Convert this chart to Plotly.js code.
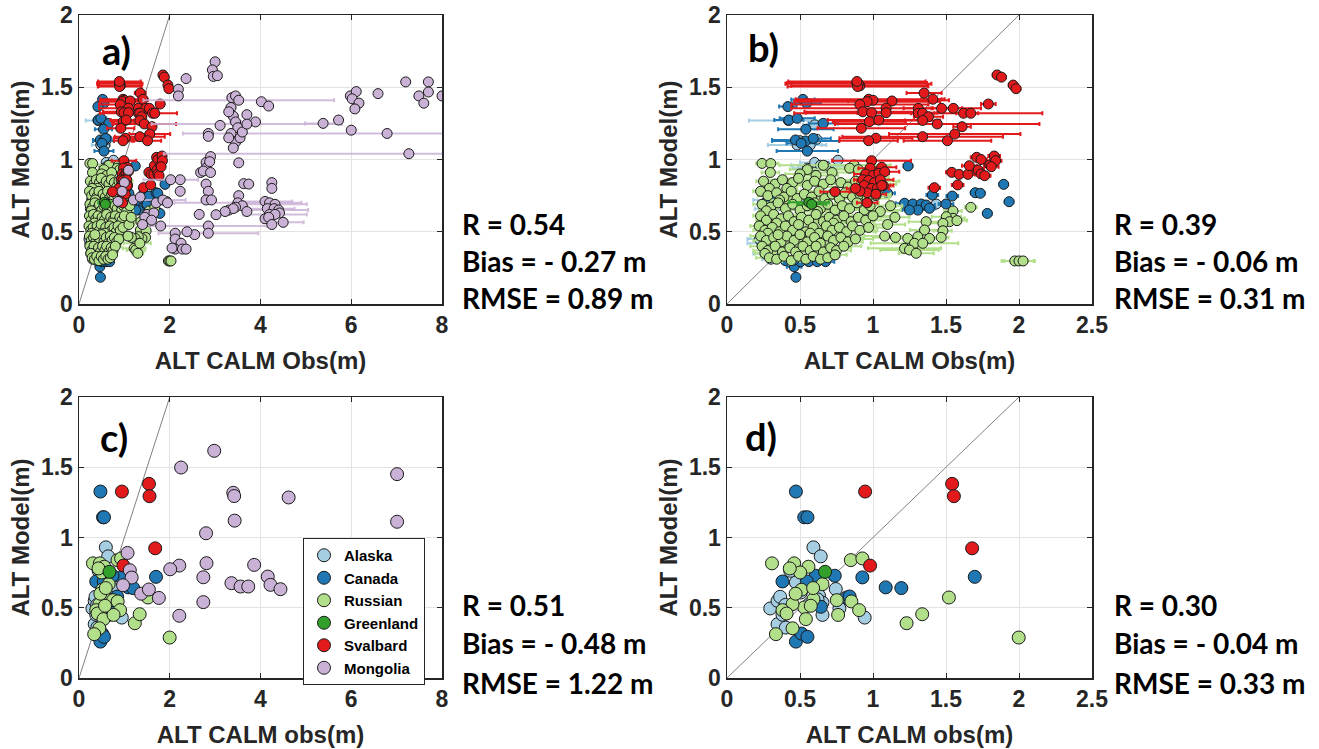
<!DOCTYPE html>
<html><head><meta charset="utf-8">
<script src="https://cdn.plot.ly/plotly-3.0.1.min.js"></script>
<style>html,body{margin:0;padding:0;background:#fff;overflow:hidden}</style>
</head><body><div id="chart" style="width:1319px;height:749px"></div>
<script>
// ---------- DATA: annual values [obs x, model y, obs error] ----------
const alaskaAnnual = [[0.42,1.27,0.27],[0.48,1.10,0.20],[0.50,1.13,0.10],[0.57,1.10,0.08],[0.60,1.24,0.08],[0.615,1.14,0.06],
 [0.607,0.955,0.12],[0.675,0.955,0.15],[0.60,0.98,0.10],[0.76,0.995,0.04],[0.64,0.96,0.20],[0.55,0.94,0.10],[1.433,0.692,0.05],
 [0.25,0.66,0.06],[0.24,0.42,0.10],[0.26,0.35,0.08],[0.30,0.31,0.06],[0.22,0.45,0.08],[0.28,0.72,0.10],[0.50,0.70,0.05],[0.70,0.33,0.07]];
const canadaAnnual = [[0.52,1.416,0.08],[0.545,1.389,0.10],[0.417,1.366,0.06],[0.424,1.273,0.10],[0.481,1.285,0.12],[0.659,1.25,0.10],
 [0.54,1.209,0.19],[0.469,1.135,0.16],[0.538,1.128,0.23],[0.591,1.146,0.12],[0.508,1.112,0.10],[0.55,1.058,0.21],[1.10,0.766,0.05],
 [1.216,0.697,0.06],[1.273,0.692,0.08],[1.33,0.692,0.05],[1.364,0.685,0.06],[1.387,0.662,0.04],[1.307,0.65,0.07],[1.25,0.65,0.05],
 [1.50,0.692,0.05],[1.406,0.754,0.04],[1.543,0.747,0.04],[1.70,0.77,0.03],[1.735,0.766,0.03],[1.783,0.627,0.03],[1.895,0.828,0.03],
 [1.932,0.708,0.03],[1.24,0.955,0.03],[0.46,0.258,0.05],[0.472,0.185,0.02],[0.504,0.293,0.06],[0.561,0.293,0.07],[0.618,0.293,0.05],
 [0.675,0.293,0.06],[0.46,0.305,0.05],[0.40,0.30,0.04],[0.263,0.70,0.05],[0.30,0.66,0.06],[0.27,0.62,0.04],[0.33,0.74,0.05]];
const russiaAnnual = [[0.24,0.973,0.04],[0.30,0.972,0.05],[0.297,0.91,0.06],[0.66,0.96,0.30],[0.87,0.962,0.25],[0.84,0.94,0.20],[0.90,0.93,0.18],[0.55,0.93,0.12],[0.50,0.90,0.10],[0.61,0.89,0.15],[0.72,0.91,0.22],
 [0.25,0.85,0.05],[0.33,0.83,0.08],[0.38,0.86,0.10],[0.45,0.84,0.12],[0.49,0.87,0.09],[0.55,0.82,0.14],[0.60,0.85,0.11],[0.66,0.83,0.20],[0.71,0.86,0.18],[0.78,0.84,0.25],[0.83,0.81,0.16],[0.88,0.85,0.30],[0.94,0.83,0.22],[0.99,0.87,0.12],[0.41,0.80,0.07],[0.29,0.80,0.06],
 [0.23,0.78,0.05],[0.28,0.75,0.07],[0.34,0.77,0.09],[0.39,0.74,0.06],[0.44,0.78,0.11],[0.48,0.73,0.08],[0.53,0.76,0.13],[0.58,0.74,0.10],[0.63,0.78,0.15],[0.67,0.73,0.12],[0.72,0.76,0.20],[0.77,0.73,0.17],[0.81,0.77,0.24],[0.86,0.74,0.19],[0.91,0.76,0.21],[0.96,0.73,0.15],[1.02,0.75,0.10],[0.36,0.72,0.06],
 [0.24,0.69,0.06],[0.30,0.67,0.08],[0.35,0.70,0.10],[0.40,0.66,0.07],[0.45,0.69,0.12],[0.50,0.65,0.09],[0.55,0.68,0.14],[0.60,0.70,0.11],[0.64,0.66,0.16],[0.69,0.69,0.13],[0.74,0.65,0.18],[0.79,0.68,0.22],[0.84,0.66,0.20],[0.89,0.70,0.15],[0.94,0.65,0.25],[0.98,0.68,0.18],[1.05,0.64,0.12],[0.27,0.645,0.05],[0.62,0.64,0.10],
 [0.23,0.61,0.05],[0.27,0.58,0.07],[0.32,0.62,0.09],[0.37,0.59,0.06],[0.42,0.61,0.10],[0.46,0.57,0.08],[0.51,0.60,0.12],[0.56,0.58,0.09],[0.61,0.62,0.14],[0.66,0.57,0.11],[0.70,0.60,0.17],[0.75,0.58,0.13],[0.80,0.61,0.20],[0.85,0.57,0.16],[0.90,0.60,0.22],[0.95,0.58,0.18],[1.00,0.61,0.14],[0.34,0.56,0.07],[0.73,0.56,0.12],
 [0.22,0.54,0.06],[0.26,0.51,0.08],[0.31,0.53,0.07],[0.36,0.50,0.10],[0.40,0.54,0.09],[0.45,0.51,0.11],[0.49,0.55,0.08],[0.54,0.50,0.13],[0.59,0.53,0.10],[0.63,0.49,0.15],[0.68,0.54,0.12],[0.72,0.51,0.18],[0.77,0.53,0.14],[0.82,0.50,0.20],[0.86,0.54,0.16],[0.91,0.51,0.12],[0.97,0.53,0.10],[0.28,0.49,0.06],[0.57,0.49,0.09],
 [0.23,0.47,0.07],[0.27,0.44,0.09],[0.32,0.46,0.06],[0.37,0.43,0.08],[0.41,0.47,0.10],[0.46,0.44,0.07],[0.50,0.48,0.12],[0.55,0.43,0.09],[0.60,0.46,0.14],[0.64,0.42,0.11],[0.69,0.47,0.16],[0.73,0.44,0.13],[0.78,0.46,0.15],[0.83,0.43,0.10],[0.88,0.45,0.12],[0.35,0.48,0.08],
 [0.24,0.40,0.08],[0.28,0.37,0.10],[0.33,0.40,0.07],[0.38,0.36,0.09],[0.43,0.39,0.11],[0.47,0.36,0.06],[0.52,0.40,0.10],[0.57,0.37,0.08],[0.61,0.40,0.12],[0.66,0.36,0.09],[0.71,0.39,0.14],[0.75,0.37,0.10],[0.80,0.40,0.12],[0.26,0.35,0.07],
 [0.29,0.32,0.09],[0.34,0.31,0.07],[0.39,0.33,0.08],[0.44,0.30,0.06],[0.49,0.33,0.09],[0.54,0.31,0.07],[0.59,0.33,0.08],[0.64,0.31,0.06],[0.69,0.32,0.07],[0.74,0.34,0.08],
 [1.548,0.644,0.06],[1.548,0.593,0.08],[1.502,0.604,0.10],[1.524,0.57,0.05],[1.575,0.577,0.07],[1.479,0.558,0.09],[1.364,0.57,0.12],[1.353,0.512,0.10],[1.479,0.507,0.06],[1.467,0.461,0.05],[1.387,0.454,0.08],[1.307,0.466,0.07],[1.238,0.454,0.06],[1.284,0.42,0.30],[1.216,0.385,0.25],[1.25,0.374,0.20],[1.296,0.351,0.12],[1.341,0.42,0.05],[1.67,0.669,0.04],[1.154,0.461,0.15],[1.10,0.55,0.12],[1.15,0.60,0.10],[1.08,0.47,0.14],[1.12,0.68,0.08],
 [1.971,0.298,0.09],[2.0,0.298,0.10],[2.028,0.298,0.08]];
const greenlandAnnual = [[0.561,0.704,0.137],[0.58,0.69,0.10]];
const svalbardAnnual = [[0.89,1.53,0.48],[0.91,1.51,0.47],[0.90,1.525,0.50],[0.895,1.505,0.48],[0.89,1.54,0.47],[1.35,1.46,0.12],[0.97,1.417,0.50],[1.00,1.41,0.52],[0.96,1.40,0.50],[1.41,1.417,0.08],
 [1.13,1.405,0.30],[0.91,1.38,0.47],[1.79,1.384,0.05],[1.09,1.355,0.65],[1.31,1.354,0.10],[1.47,1.354,0.07],[1.55,1.354,0.06],[0.93,1.33,0.40],
 [0.99,1.324,0.45],[1.09,1.324,0.20],[1.31,1.32,0.85],[1.34,1.32,0.08],[1.62,1.32,0.05],[1.67,1.32,0.05],[1.38,1.296,0.10],[0.975,1.262,0.25],
 [1.34,1.27,0.12],[1.04,1.273,0.35],[1.44,1.246,0.70],[1.61,1.227,0.06],[0.92,1.216,0.30],[1.56,1.176,0.45],[1.02,1.147,0.25],[1.34,1.158,0.55],
 [0.97,1.13,0.20],[1.51,1.13,0.30],[0.99,0.992,0.27],[1.06,0.946,0.10],[0.98,0.94,0.08],[0.95,0.90,0.08],[1.00,0.89,0.06],[1.04,0.905,0.07],
 [1.08,0.915,0.10],[0.93,0.86,0.06],[0.97,0.855,0.08],[1.01,0.84,0.05],[1.05,0.86,0.09],[0.94,0.82,0.07],[0.99,0.80,0.06],[1.03,0.80,0.08],
 [1.07,0.82,0.05],[0.96,0.77,0.06],[1.02,0.76,0.07],[0.91,0.78,0.05],[0.88,0.80,0.06],[0.74,0.777,0.10],[0.96,0.70,0.07],[1.06,0.82,0.08],
 [1.42,0.805,0.04],[1.58,0.824,0.04],[1.54,0.911,0.04],[1.59,0.897,0.04],[1.65,0.897,0.05],[1.66,0.957,0.05],[1.71,1.015,0.04],[1.74,1.00,0.04],
 [1.72,0.927,0.04],[1.74,0.90,0.05],[1.765,0.888,0.04],[1.80,0.962,0.04],[1.83,1.024,0.04],[1.84,0.992,0.04],[1.81,0.95,0.05],[1.85,1.585,0.03],
 [1.88,1.57,0.03],[1.96,1.515,0.03],[1.98,1.49,0.03]];
const mongoliaAnnual = [[3.00,1.676,0.05],[2.94,1.62,0.05],[2.96,1.575,0.04],[3.05,1.58,0.06],[2.36,1.56,0.05],[2.19,1.486,0.06],[2.19,1.44,0.05],
 [3.37,1.428,0.10],[3.45,1.44,0.08],[3.52,1.41,2.10],[3.35,1.36,0.10],[3.40,1.30,0.10],[3.30,1.33,0.05],[3.45,1.26,0.12],[3.50,1.22,0.10],
 [3.35,1.18,0.08],[3.45,1.12,0.10],[3.55,1.15,0.05],[3.40,1.08,0.06],[3.60,1.19,0.07],[3.52,0.977,0.06],[3.30,1.15,0.05],[4.02,1.40,0.10],
 [4.18,1.37,0.08],[5.98,1.44,0.05],[6.11,1.47,0.06],[6.02,1.42,0.05],[6.17,1.39,0.05],[6.08,1.35,0.06],[6.59,1.456,0.05],[7.20,1.537,0.05],
 [7.70,1.537,0.05],[7.70,1.467,0.05],[7.49,1.44,0.05],[7.60,1.39,0.05],[8.00,1.44,0.05],[5.38,1.25,0.40],[5.72,1.273,0.05],[6.00,1.203,0.05],
 [6.79,1.18,4.50],[7.27,1.04,5.40],[3.11,1.236,0.05],[3.70,1.31,0.06],[3.89,1.26,0.05],[3.70,1.245,2.10],[2.85,1.18,0.05],[2.85,1.16,0.05],
 [2.80,0.98,0.05],[2.80,0.94,0.04],[2.68,0.91,0.05],[2.74,0.92,0.05],[2.90,0.91,0.05],[2.90,1.02,0.04],[2.88,0.985,0.05],[2.23,0.86,0.05],
 [2.02,0.86,0.60],[2.23,0.78,0.05],[2.80,0.83,0.05],[2.85,0.78,0.04],[2.80,0.72,0.05],[2.92,0.72,0.05],[3.63,0.833,0.05],[3.74,0.83,0.05],
 [4.25,0.84,0.05],[4.25,0.80,0.05],[3.52,0.75,0.05],[3.50,0.70,1.40],[3.60,0.68,0.05],[3.45,0.67,0.05],[3.30,0.65,0.05],[3.40,0.66,0.05],
 [3.22,0.64,0.05],[3.70,0.64,0.05],[4.10,0.71,0.60],[4.20,0.70,0.05],[4.32,0.69,0.70],[4.15,0.66,0.60],[4.30,0.66,0.05],[4.40,0.65,0.65],
 [4.42,0.63,0.05],[4.20,0.62,0.05],[4.32,0.62,0.70],[4.10,0.59,0.05],[4.18,0.60,0.05],[4.50,0.565,0.45],[4.25,0.55,0.05],[3.02,0.618,0.05],
 [2.65,0.62,0.05],[2.85,0.54,1.30],[2.85,0.49,1.10],[2.55,0.48,0.05],[2.38,0.50,0.05],[2.12,0.49,0.05],[2.12,0.45,0.05],[2.25,0.42,0.05],
 [2.12,0.38,0.05],[2.28,0.38,0.05],[2.36,0.38,0.05],[2.05,0.387,0.05],[1.09,0.926,0.05],[0.86,0.71,0.05],[1.20,0.72,0.05],[1.35,0.74,0.05],
 [1.50,0.62,0.05],[1.65,0.63,0.05],[1.45,0.60,0.05],[1.60,0.58,0.05],[1.80,0.54,0.05],[1.40,0.55,0.05],[1.00,0.84,0.05],[0.95,0.78,0.05],
 [1.70,0.70,0.05],[1.85,0.72,0.50],[1.95,0.70,0.05]];

// ---------- DATA: multi-year mean values [obs x, model y] ----------
const alaskaMean = [[0.592,0.93],[0.642,0.866],[0.296,0.495],[0.346,0.549],[0.364,0.578],[0.346,0.383],[0.403,0.359],[0.745,0.633],[0.77,0.495],
 [0.943,0.43],[0.654,0.449],[0.472,0.68],[0.506,0.609],[0.563,0.526],[0.631,0.585],[0.433,0.763],[0.654,0.537],[0.40,0.52],[0.38,0.45],[0.62,0.56]];
const canadaMean = [[0.472,1.327],[0.529,1.144],[0.551,1.144],[0.38,0.687],[0.643,0.507],[0.82,0.573],[0.927,0.716],[1.087,0.645],[1.194,0.64],
 [1.697,0.72],[0.472,0.259],[0.51,0.316],[0.551,0.293],[0.608,0.728],[0.738,0.728],[0.547,0.687],[0.84,0.58]];
const russiaMean = [[0.308,0.816],[0.46,0.816],[0.558,0.792],[0.501,0.751],[0.848,0.839],[0.927,0.851],[0.654,0.668],[0.51,0.628],[0.592,0.561],
 [0.529,0.502],[0.449,0.526],[0.38,0.483],[0.408,0.459],[0.54,0.419],[0.449,0.354],[0.335,0.312],[0.752,0.554],[0.852,0.545],[0.905,0.483],
 [0.761,0.449],[1.23,0.39],[1.337,0.454],[1.52,0.573],[1.998,0.288],[0.574,0.514],[0.47,0.60],[0.43,0.78],[0.59,0.64]];
const greenlandMean = [[0.672,0.756]];
const svalbardMean = [[0.946,1.327],[1.542,1.382],[1.554,1.294],[1.679,0.923],[0.98,0.80]];
const mongoliaMean = [[2.98,1.617],[2.25,1.498],[3.40,1.318],[3.42,1.295],[3.43,1.12],[4.62,1.285],[7.01,1.451],[7.01,1.112],[2.80,1.03],
 [2.81,0.817],[2.74,0.717],[2.74,0.54],[2.21,0.80],[2.01,0.774],[2.21,0.443],[3.86,0.805],[3.36,0.675],[3.56,0.651],[3.73,0.651],[4.16,0.722],
 [4.22,0.663],[4.44,0.632],[1.07,0.89],[1.12,0.767],[1.16,0.715],[0.97,0.66],[1.37,0.60],[1.54,0.63],[1.76,0.57]];

const regionNames = ['Alaska','Canada','Russian','Greenland','Svalbard','Mongolia'];
const oneToOne = [0, 2];
const panelLetters = ['a)','b)','c)','d)'];
const statR = ['0.54','0.39','0.51','0.30'];
const statBias = ['- 0.27','- 0.06','- 0.48','- 0.04'];
const statRMSE = ['0.89','0.31','1.22','0.33'];

// ---------- STYLE ----------
const colors = ['#a6cee3','#1f78b4','#b2df8a','#33a02c','#e31a1c','#cab2d6'];
const errColors = ['#a6cee3','#1f78b4','#b2df8a','#33a02c','#e31a1c','rgba(202,178,214,0.85)'];
const edge = '#1a1a1a';

function annualTrace(i, data, xa, ya) {
  return {type:'scatter', mode:'markers', name:regionNames[i], showlegend:false, xaxis:xa, yaxis:ya,
    x:data.map(d=>d[0]), y:data.map(d=>d[1]), hoverinfo:'x+y',
    error_x:{type:'data', symmetric:true, array:data.map(d=>d[2]), color:errColors[i], thickness:2, width:2},
    marker:{size:10, color:colors[i], line:{color:edge, width:1}}};
}
function meanTrace(i, data, xa, ya, legend) {
  return {type:'scatter', mode:'markers', name:regionNames[i], showlegend:legend, xaxis:xa, yaxis:ya,
    x:data.map(d=>d[0]), y:data.map(d=>d[1]), hoverinfo:'x+y',
    marker:{size:13, color:colors[i], line:{color:edge, width:1}}};
}
function diag(xa, ya) {
  return {type:'scatter', mode:'lines', x:oneToOne, y:oneToOne, xaxis:xa, yaxis:ya, showlegend:false,
    line:{color:'#808080', width:1}, hoverinfo:'skip'};
}

const annual = [alaskaAnnual, canadaAnnual, russiaAnnual, greenlandAnnual, svalbardAnnual];
const means = [alaskaMean, canadaMean, russiaMean, greenlandMean, svalbardMean];

const traces = [];
traces.push(diag('x','y'));
annual.forEach((d,i)=>traces.push(annualTrace(i,d,'x','y')));
traces.push(annualTrace(5, mongoliaAnnual, 'x','y'));
traces.push(diag('x2','y2'));
annual.forEach((d,i)=>traces.push(annualTrace(i,d,'x2','y2')));
traces.push(diag('x3','y3'));
means.forEach((d,i)=>traces.push(meanTrace(i,d,'x3','y3',true)));
traces.push(meanTrace(5, mongoliaMean, 'x3','y3',true));
traces.push(diag('x4','y4'));
means.forEach((d,i)=>traces.push(meanTrace(i,d,'x4','y4',false)));

const W = 1319, H = 749;
const tickFont = {family:'Liberation Sans, Arial, sans-serif', size:23, color:'#262626', weight:'bold'};
const titleFont = {family:'Liberation Sans, Arial, sans-serif', size:24, color:'#262626', weight:'bold'};
function xax(dom, maxv, dt, title, anchor) {
  return {domain:dom, range:[0,maxv], dtick:dt, tick0:0, anchor:anchor, showline:true, mirror:'ticks', linecolor:'#262626', linewidth:1.5,
    ticks:'inside', ticklen:5, tickcolor:'#262626', showgrid:true, gridcolor:'#e3e3e3', gridwidth:1, zeroline:false,
    tickfont:tickFont, title:{text:title, font:titleFont, standoff:15}};
}
function yax(dom, anchor) {
  return {domain:dom, range:[0,2], dtick:0.5, tick0:0, anchor:anchor, showline:true, mirror:'ticks', linecolor:'#262626', linewidth:1.5,
    ticks:'inside', ticklen:5, tickcolor:'#262626', showgrid:true, gridcolor:'#e3e3e3', gridwidth:1, zeroline:false,
    tickfont:tickFont, title:{text:'ALT Model(m)', font:titleFont, standoff:4}};
}
const xLeft = [79/W, 442/W], xRight = [727/W, 1092/W];
const yTop = [1-304/H, 1-15/H], yBot = [1-678/H, 1-397/H];

const annotations = [];
const letterPos = [[116,50],[763,47],[114,437],[761,436]];
letterPos.forEach((p,i)=>annotations.push({xref:'paper', yref:'paper', x:p[0]/W, y:1-p[1]/H, xanchor:'center', yanchor:'middle',
  text:panelLetters[i], showarrow:false, font:{family:'Lato, sans-serif', size:38, color:'#000', weight:'bold'}}));
const statX = [460, 1112, 460, 1112];
const statY = [[224,261,298],[224,261,298],[605,643,683],[605,643,683]];
for (let i=0;i<4;i++) {
  const lines = ['R = '+statR[i], 'Bias = '+statBias[i]+' m', 'RMSE = '+statRMSE[i]+' m'];
  lines.forEach((t,j)=>annotations.push({xref:'paper', yref:'paper', x:statX[i]/W, y:1-statY[i][j]/H, xanchor:'left', yanchor:'middle',
    text:t, showarrow:false, font:{family:'Lato, sans-serif', size:28, color:'#000', weight:'bold'}}));
}

const layout = {
  width:W, height:H, margin:{l:0,r:0,t:0,b:0}, paper_bgcolor:'#fff', plot_bgcolor:'#fff', showlegend:true,
  xaxis: xax(xLeft, 8, 2, 'ALT CALM Obs(m)', 'y'),
  yaxis: yax(yTop, 'x'),
  xaxis2: xax(xRight, 2.5, 0.5, 'ALT CALM Obs(m)', 'y2'),
  yaxis2: yax(yTop, 'x2'),
  xaxis3: xax(xLeft, 8, 2, 'ALT CALM obs(m)', 'y3'),
  yaxis3: yax(yBot, 'x3'),
  xaxis4: xax(xRight, 2.5, 0.5, 'ALT CALM obs(m)', 'y4'),
  yaxis4: yax(yBot, 'x4'),
  legend:{x:303/W, y:1-538/H, xanchor:'left', yanchor:'top', bgcolor:'#fff', bordercolor:'#262626', borderwidth:1,
    font:{family:'Liberation Sans, Arial, sans-serif', size:15, color:'#000', weight:'bold'}, tracegroupgap:0, itemsizing:'trace'},
  annotations: annotations
};
Plotly.newPlot('chart', traces, layout, {staticPlot:true, displayModeBar:false});
</script></body></html>
